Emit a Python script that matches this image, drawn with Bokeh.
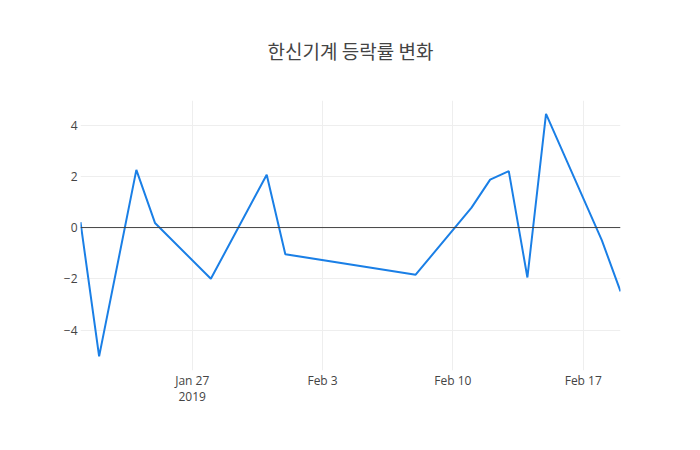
from datetime import datetime
from bokeh.plotting import figure
from bokeh.models import Range1d, FixedTicker, Span, ColumnDataSource
from bokeh.embed import file_html
from bokeh.resources import INLINE

dates = ["2019-01-21", "2019-01-22", "2019-01-24", "2019-01-25", "2019-01-28",
         "2019-01-31", "2019-02-01", "2019-02-08", "2019-02-11", "2019-02-12",
         "2019-02-13", "2019-02-14", "2019-02-15", "2019-02-18", "2019-02-19"]
changes = [0.21, -5.03, 2.25, 0.18, -2.0, 2.06, -1.04, -1.84, 0.78, 1.87,
           2.2, -1.95, 4.44, -0.5, -2.49]
tick_dates = ["2019-01-27", "2019-02-03", "2019-02-10", "2019-02-17"]
tick_labels = ["Jan 27\n2019", "Feb 3", "Feb 10", "Feb 17"]
y_ticks = [-4, -2, 0, 2, 4]
title = "한신기계 등락률 변화"

x = [datetime.strptime(d, "%Y-%m-%d") for d in dates]
src = ColumnDataSource(dict(x=x, y=changes))

def ms(d):
    return (datetime.strptime(d, "%Y-%m-%d") - datetime(1970, 1, 1)).total_seconds() * 1000.0

p = figure(width=700, height=450, x_axis_type="datetime", output_backend="svg",
           toolbar_location=None, min_border_left=80, min_border_right=80,
           min_border_top=100, min_border_bottom=80,
           x_range=Range1d(x[0], x[-1]), y_range=Range1d(-5.58, 4.96))
p.outline_line_color = None
p.background_fill_color = "white"
p.border_fill_color = "white"

p.title.text = title
p.title.align = "center"
p.title.vertical_align = "top"
p.title.text_font = "Noto Sans CJK KR"
p.title.text_font_size = "19px"
p.title.text_font_style = "normal"
p.title.text_color = "#444444"
p.title.standoff = 70

tick_ms = [ms(d) for d in tick_dates]
p.xaxis.ticker = FixedTicker(ticks=tick_ms)
p.xaxis.major_label_overrides = {t: lbl for t, lbl in zip(tick_ms, tick_labels)}
p.yaxis.ticker = FixedTicker(ticks=y_ticks)

for ax in (p.xaxis, p.yaxis):
    ax.axis_line_color = None
    ax.major_tick_line_color = None
    ax.minor_tick_line_color = None
    ax.major_tick_out = 0
    ax.major_tick_in = 0
    ax.minor_tick_out = 0
    ax.minor_tick_in = 0
    ax.major_label_text_font = "Open Sans"
    ax.major_label_text_font_size = "12px"
    ax.major_label_text_color = "#444444"
    ax.major_label_text_line_height = 0.95
p.xaxis.major_label_standoff = 1
p.yaxis.major_label_standoff = 3

p.xgrid.grid_line_color = "#eeeeee"
p.ygrid.grid_line_color = "#eeeeee"
p.xgrid.grid_line_width = 1
p.ygrid.grid_line_width = 1

p.add_layout(Span(location=0, dimension="width", line_color="#444444", line_width=1))

p.line("x", "y", source=src, line_color="#1a7fe6", line_width=2)

open("out.html", "w").write(file_html(p, INLINE))
